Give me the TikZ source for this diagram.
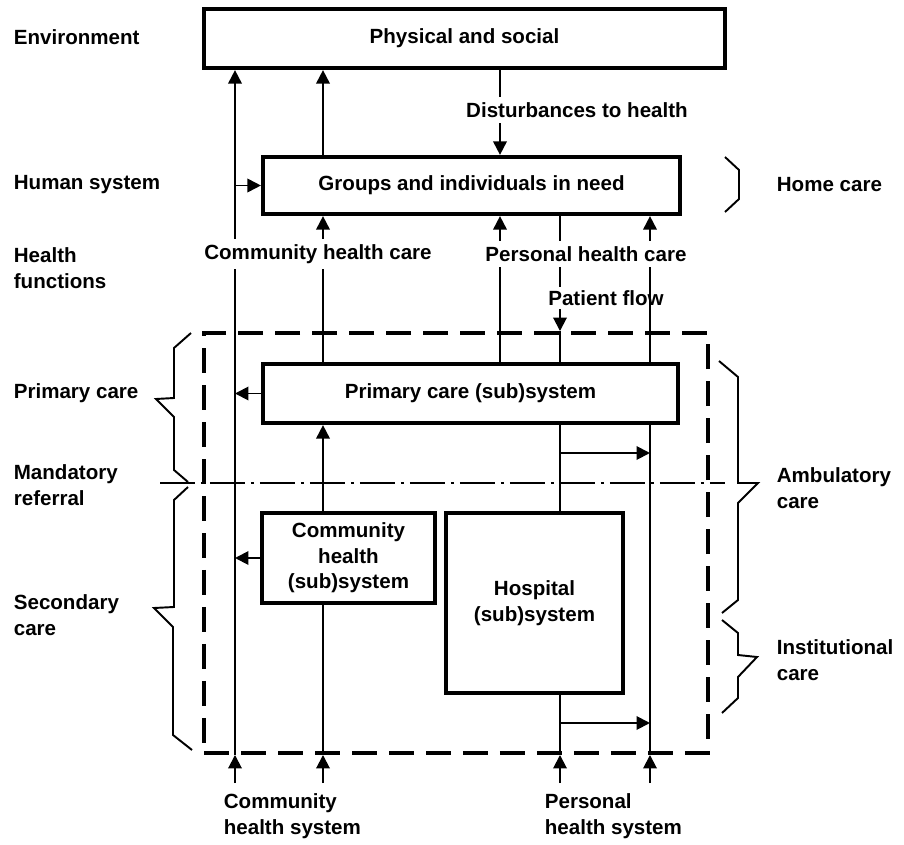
\documentclass[tikz,border=0pt]{standalone}
\usepackage{fontspec}
\setmainfont{Liberation Sans}
\usetikzlibrary{arrows.meta}
\newcommand{\lblfont}{\bfseries\fontsize{11.7}{14.5}\selectfont}
\tikzset{
  sys/.style ={rectangle, draw=black, line width=2.4pt, align=center,
               inner sep=0pt, font=\lblfont},
  txt/.style ={align=left, inner xsep=2pt, inner ysep=3pt, font=\lblfont},
  arr/.style ={-{Triangle[length=2.7mm, width=2.7mm]}, line width=1.1pt},
  ln/.style  ={line width=1.1pt},
  brc/.style ={line width=1.1pt, line join=miter},
  zone/.style={rectangle, draw, line width=2.3pt, inner sep=0pt,
               dash pattern=on 5mm off 2.4mm},
  refl/.style={line width=0.9pt, dash pattern=on 7mm off 1.2mm on 0.6mm off 1.2mm}
}

\begin{document}
\begin{tikzpicture}[x=0.02cm, y=-0.02cm]
  \useasboundingbox (0,0) rectangle (904,845);

  % columns and rows
  \coordinate (cA) at (235,0);
  \coordinate (cB) at (323,0);
  \coordinate (cC) at (500,0);
  \coordinate (cD) at (560,0);
  \coordinate (cE) at (650,0);
  \coordinate (bot) at (0,783);
  \coordinate (ra) at (0,453);
  \coordinate (rb) at (0,723);

  % boxes
  \node[zone, minimum width=10.08cm, minimum height=8.4cm] (frame) at (456,543) {};
  \node[sys, minimum width=10.42cm, minimum height=1.18cm] (phys) at (464.5,38.5) {Physical and social};
  \node[sys, minimum width=8.34cm, minimum height=1.14cm] (groups) at (471.5,185.5) {Groups and individuals in need};
  \node[sys, minimum width=8.3cm, minimum height=1.18cm] (prim) at (470.5,393.5) {Primary care (sub)system};
  \node[sys, minimum width=3.46cm, minimum height=1.8cm] (comm) at (348.5,558) {Community\\health\\(sub)system};
  \node[sys, minimum width=3.54cm, minimum height=3.6cm] (hosp) at (534.5,603) {Hospital\\(sub)system};

  % flow labels
  \node[txt] (dist) at (577,110) {Disturbances to health};
  \node[txt] (chc) at (318,254) {Community health care};
  \node[txt] (phc) at (586,254) {Personal health care};
  \node[txt, inner ysep=2pt] (pf) at (606,298) {Patient flow};

  % side labels
  \node[txt, anchor=west] (env) at (10,37) {Environment};
  \node[txt, anchor=west] (hum) at (10,185) {Human system};
  \node[txt, anchor=west] (hfn) at (10,268) {Health\\functions};
  \node[txt, anchor=west] (pcl) at (10,393) {Primary care};
  \node[txt, anchor=west] (mref) at (10,485) {Mandatory\\referral};
  \node[txt, anchor=west] (scl) at (10,615) {Secondary\\care};
  \node[txt, anchor=west] (home) at (773,185) {Home care};
  \node[txt, anchor=west] (amb) at (773,488) {Ambulatory\\care};
  \node[txt, anchor=west] (inst) at (773,660) {Institutional\\care};
  \node[txt, anchor=west] (chs) at (220,816) {Community\\health system};
  \node[txt, anchor=west] (phs) at (541,816) {Personal\\health system};

  % mandatory referral line
  \draw[refl] (160,483) -- (725,483);

  % column A
  \draw[arr] (bot -| cA) -- (frame.south -| cA);
  \draw[ln] (frame.south -| cA) -- (chc.south -| cA);
  \draw[arr] (chc.north -| cA) -- (phys.south -| cA);
  \draw[arr] (cA |- groups.west) -- (groups.west);
  \draw[arr] (prim.west) -- (cA |- prim.west);
  \draw[arr] (comm.west) -- (cA |- comm.west);

  % column B
  \draw[arr] (bot -| cB) -- (frame.south -| cB);
  \draw[ln] (frame.south -| cB) -- (comm.south -| cB);
  \draw[arr] (comm.north -| cB) -- (prim.south -| cB);
  \draw[ln] (prim.north -| cB) -- (chc.south -| cB);
  \draw[arr] (chc.north -| cB) -- (groups.south -| cB);
  \draw[arr] (groups.north -| cB) -- (phys.south -| cB);

  % column C
  \draw[ln] (phys.south -| cC) -- (dist.north -| cC);
  \draw[arr] (dist.south -| cC) -- (groups.north -| cC);
  \draw[ln] (prim.north -| cC) -- (phc.south -| cC);
  \draw[arr] (phc.north -| cC) -- (groups.south -| cC);

  % column D
  \draw[ln] (groups.south -| cD) -- (phc.north -| cD);
  \draw[ln] (phc.south -| cD) -- (pf.north -| cD);
  \draw[arr] (pf.south -| cD) -- (frame.north -| cD);
  \draw[ln] (frame.north -| cD) -- (prim.north -| cD);
  \draw[ln] (prim.south -| cD) -- (hosp.north -| cD);
  \draw[ln] (hosp.south -| cD) -- (frame.south -| cD);
  \draw[arr] (bot -| cD) -- (frame.south -| cD);
  \draw[arr] (cD |- ra) -- (cE |- ra);
  \draw[arr] (cD |- rb) -- (cE |- rb);

  % column E
  \draw[arr] (phc.north -| cE) -- (groups.south -| cE);
  \draw[ln] (prim.north -| cE) -- (phc.south -| cE);
  \draw[ln] (frame.south -| cE) -- (prim.south -| cE);
  \draw[arr] (bot -| cE) -- (frame.south -| cE);

  % braces
  \draw[brc] (725,157) -- (739,170) -- (739,199) -- (725,212);
  \draw[brc] (191,333) -- (174,348) -- (174,398) -- (156,399) -- (174,417) -- (174,470) -- (188,482);
  \draw[brc] (188,487) -- (174,500) -- (174,607) -- (154,608) -- (173,627) -- (173,735) -- (192,750);
  \draw[brc] (719,361) -- (738,377) -- (738,483) -- (758,483) -- (738,503) -- (738,600) -- (722,613);
  \draw[brc] (722,620) -- (738,633) -- (738,655) -- (757,657) -- (738,677) -- (738,698) -- (722,713);
\end{tikzpicture}
\end{document}
